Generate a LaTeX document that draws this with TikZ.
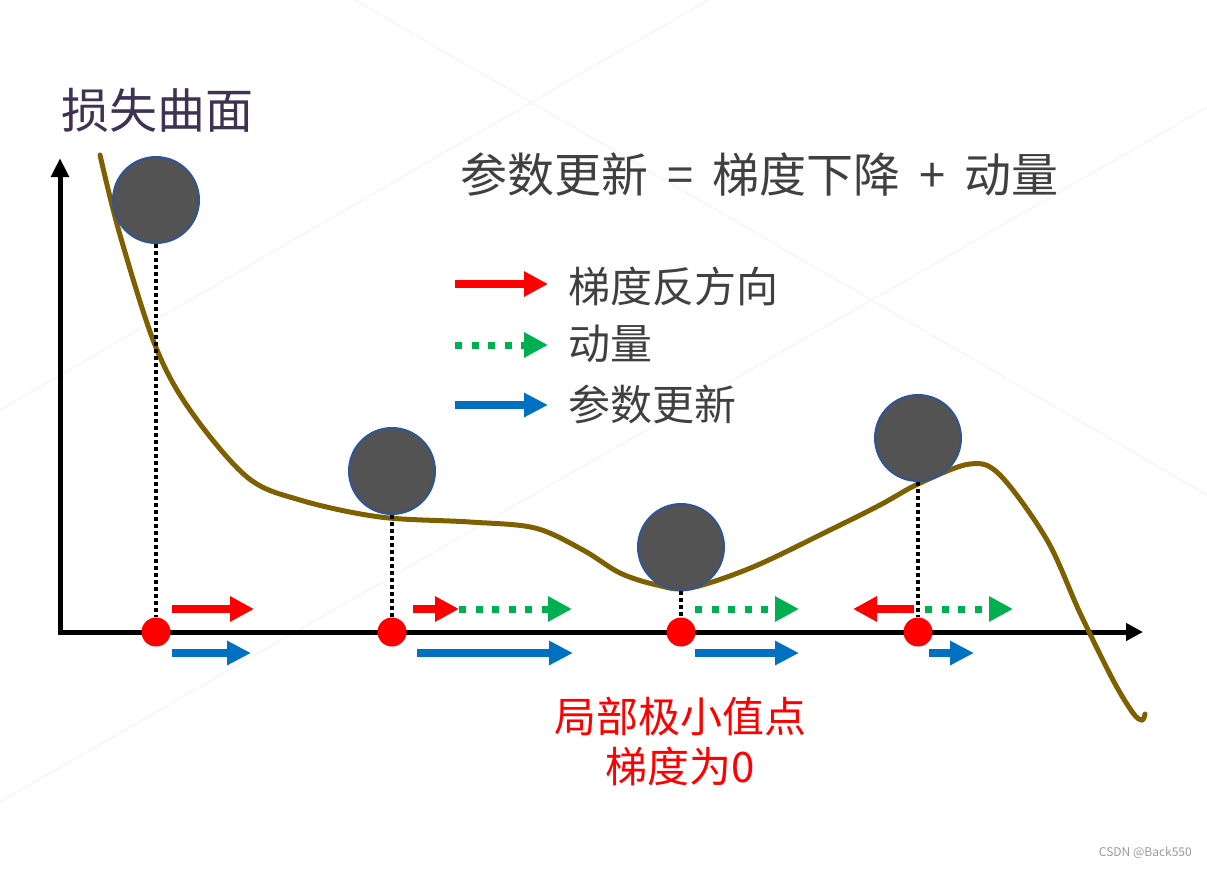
\documentclass[tikz,border=0pt]{standalone}
\usepackage{fontspec}
\setmainfont{Noto Sans CJK SC}
\usetikzlibrary{arrows.meta}
\definecolor{curvebrown}{HTML}{7F6000}
\definecolor{ballgray}{HTML}{535353}
\definecolor{ballblue}{HTML}{2F5597}
\definecolor{gradred}{HTML}{FF0000}
\definecolor{momgreen}{HTML}{00B050}
\definecolor{updblue}{HTML}{0070C0}
\definecolor{titlepurple}{HTML}{3F3151}
\definecolor{textgray}{HTML}{404040}
\tikzset{
  ball/.style={circle, fill=ballgray, draw=ballblue, line width=2pt, minimum size=86pt, inner sep=0pt},
  minpt/.style={circle, fill=gradred, minimum size=29pt, inner sep=0pt},
  grad/.style={gradred, line width=7.5pt, -{Triangle[length=24pt,width=24pt]}},
  mom/.style={momgreen, line width=7pt, dash pattern=on 7pt off 9.5pt, -{Triangle[length=24pt,width=24pt]}},
  upd/.style={updblue, line width=7.5pt, -{Triangle[length=24pt,width=23pt]}},
  plumb/.style={line width=3.5pt, dash pattern=on 3.5pt off 3.5pt},
  legtext/.style={textgray, font=\fontsize{42}{50}\selectfont, anchor=west, inner sep=0pt},
  faint/.style={gray!7, line width=1.5pt}
}
\begin{document}
\begin{tikzpicture}[x=1pt,y=-1pt]
\useasboundingbox (0,0) rectangle (1207,868);
\draw[faint] (355,0) -- (1207,495);
\draw[faint] (708,0) -- (0,410);
\draw[faint] (1207,107) -- (0,802);

\draw[line width=5pt, line join=miter, {Triangle[length=19pt,width=17pt]}-{Triangle[length=17pt,width=17pt]}] (60,158) -- (60,632) -- (1143,632);
\draw[curvebrown, line width=5pt, line cap=round] plot[smooth, tension=0.55] coordinates {
  (100,155) (120,235) (155,345) (190,410) (247,477) (300,500) (380,517) (470,522)
  (535,528) (583,550) (620,573) (657,585) (690,588) (753,567) (830,530) (880,505)
  (920,483) (970,464) (1000,475) (1047,540) (1080,613) (1113,680) (1133,713) (1142,720) (1145,714)};

\foreach \n/\x/\y in {1/156/200, 2/392/471, 3/681/547, 4/918/438} {
  \node[ball] (b\n) at (\x,\y) {};
  \node[minpt] (p\n) at (\x,632) {};
  \draw[plumb] (b\n.south) -- (p\n.north);
}

\draw[grad] (172,609) -- (254,609);
\draw[upd] (172,653) -- (251,653);
\draw[grad] (413,609) -- (459,609);
\draw[mom] (459,609) -- (572,609);
\draw[upd] (417,653) -- (573,653);
\draw[mom] (695,609) -- (799,609);
\draw[upd] (695,653) -- (799,653);
\draw[grad] (914,609) -- (853,609);
\draw[mom] (925,609) -- (1013,609);
\draw[upd] (929,653) -- (974,653);

\draw[grad] (455,284) -- (548,284);
\draw[mom] (455,345) -- (548,345);
\draw[upd] (455,405) -- (548,405);
\node[legtext] (lgrad) at (568,286) {梯度反方向};
\node[legtext] (lmom) at (568,344) {动量};
\node[legtext] (lupd) at (568,404) {参数更新};

\node[titlepurple, font=\fontsize{48}{56}\selectfont, anchor=west, inner sep=0pt] (title) at (61,110) {损失曲面};
\node[textgray, font=\fontsize{47}{56}\selectfont, anchor=west, inner sep=0pt] (rule) at (460,175)
  {参数更新\hspace{19pt}=\hspace{19pt}梯度下降\hspace{19pt}+\hspace{19pt}动量};
\node[gradred, font=\fontsize{42}{50}\selectfont, align=center, inner sep=0pt] (note) at (680,741) {局部极小值点\\梯度为0};
\node[gray!80, font=\fontsize{12}{14}\selectfont, anchor=east, inner sep=0pt] (mark) at (1192,853) {CSDN @Back550};
\end{tikzpicture}
\end{document}
